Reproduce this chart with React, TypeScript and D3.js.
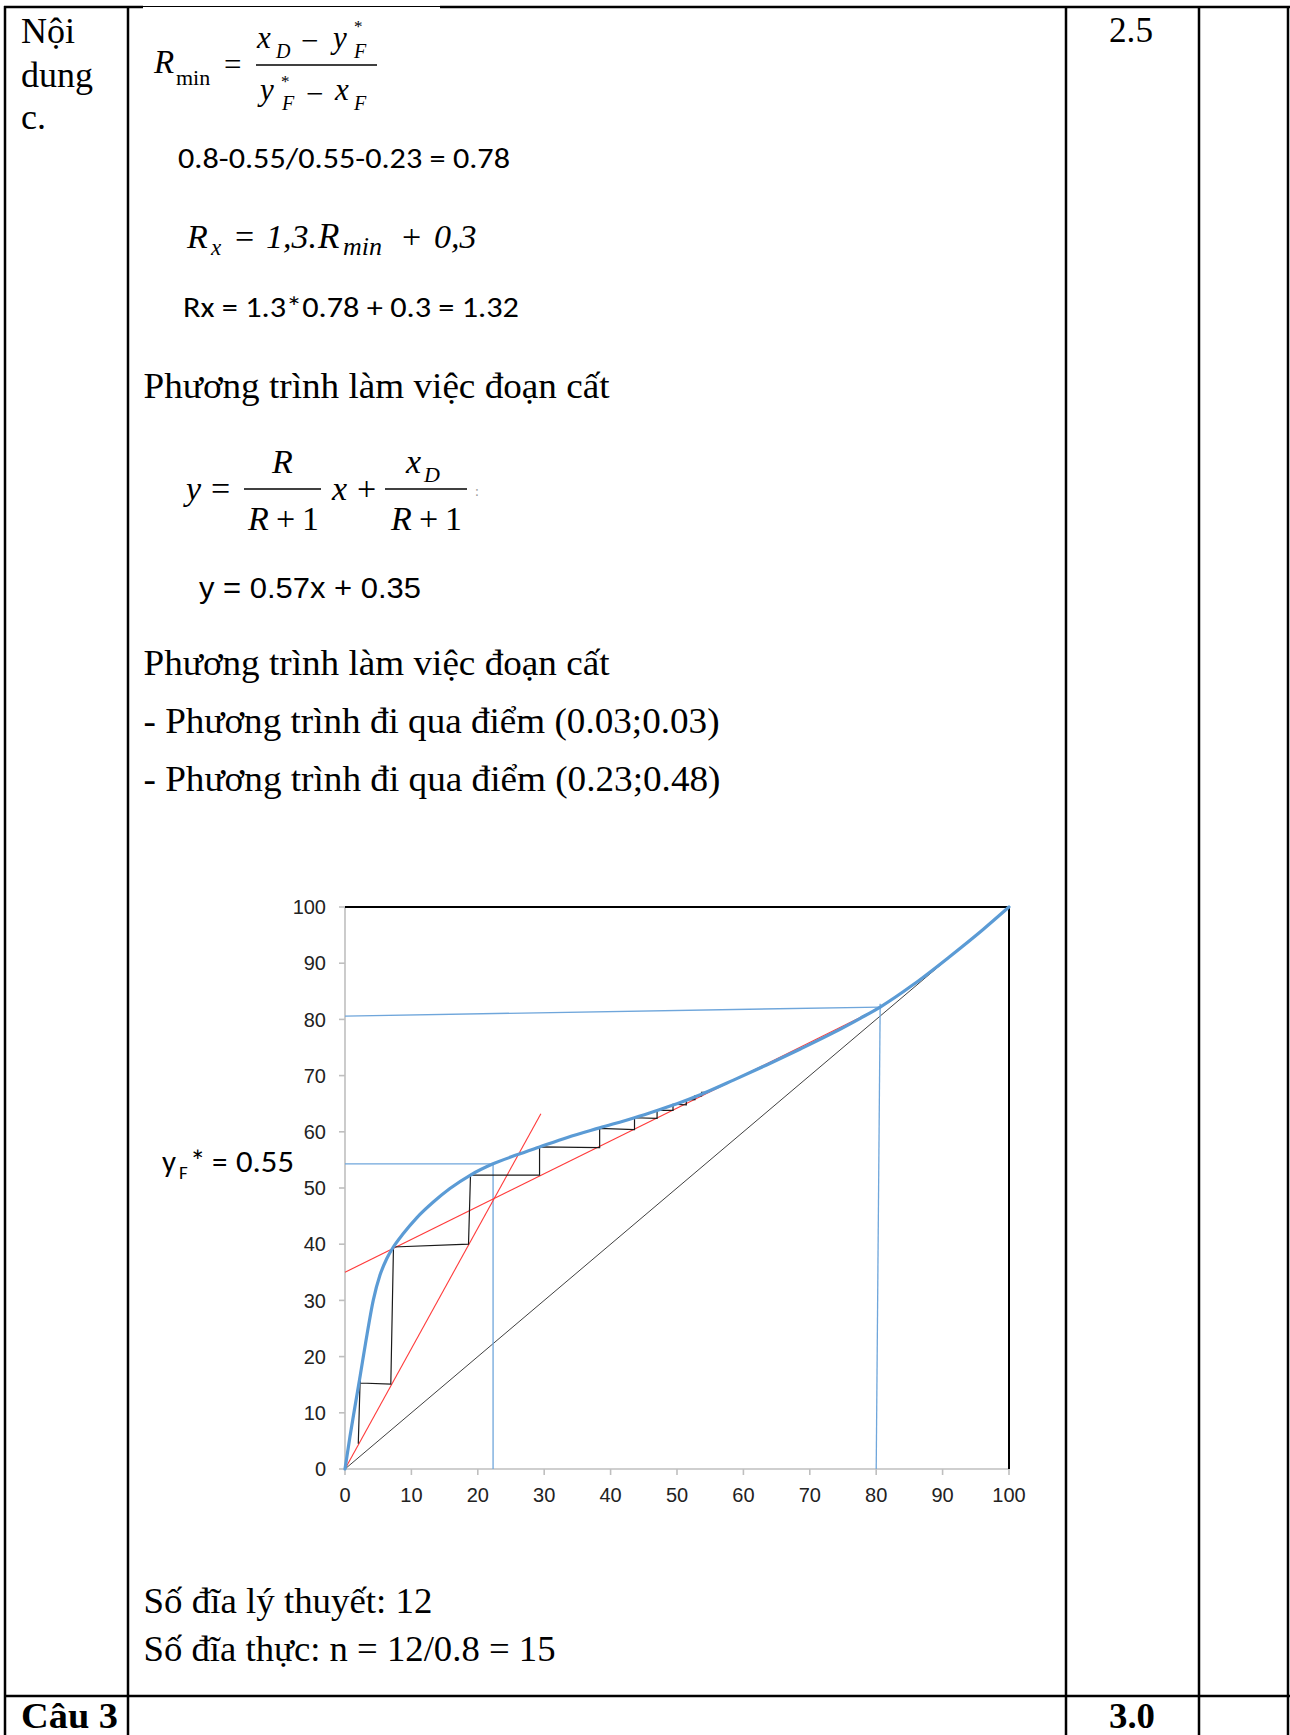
import React from "react";
import * as d3 from "d3";

// ---------- chart data (percent mole fraction) ----------
const eqX = [0, 0.75, 1.5, 2.3, 3.1, 4.27, 5.27, 6.28, 7.28, 8.78, 10.8, 13.3, 15.8, 18.9, 22.3, 25.9, 29.3, 33.5, 38.35, 43.6, 47, 50, 53.5, 58.5, 63.5, 68.5, 73.5, 77.6, 80.6, 85.6, 91.1, 96.1, 100];
const eqY = [0, 5.8, 11.1, 16.7, 22.4, 30.1, 34.5, 37.4, 39.5, 41.9, 44.7, 47.5, 49.9, 52.3, 54.3, 55.9, 57.3, 59.0, 60.7, 62.5, 63.8, 65.0, 66.6, 69.2, 71.9, 74.7, 77.6, 80.2, 82.2, 86.2, 91.2, 96.0, 100];

const diagonal: [number, number][] = [[0, 0], [100, 100]];
const frameTop: [number, number][] = [[0, 100], [100, 100]];
const frameRight: [number, number][] = [[100, 0], [100, 100]];
const rectifyingLine: [number, number][] = [[0, 35], [80.6, 82.1]];
const strippingLine: [number, number][] = [[0, 0], [29.5, 63.2]];
const feedHorizontal: [number, number][] = [[0, 54.3], [22.3, 54.3]];
const feedVertical: [number, number][] = [[22.3, 0], [22.3, 54.3]];
const topHorizontal: [number, number][] = [[0, 80.6], [80.6, 82.2]];
const topVertical: [number, number][] = [[80.0, 0], [80.6, 82.8]];
const steps: [number, number][] = [
  [2.0, 4.5], [2.3, 16.7], [2.3, 15.3], [6.9, 15.1], [7.3, 39.5], [18.6, 40.0],
  [18.9, 52.3], [29.3, 52.3], [29.3, 57.3], [38.35, 57.2], [38.35, 60.6], [43.6, 60.4],
  [43.6, 62.5], [47.0, 62.4], [47.0, 63.8], [49.4, 63.8], [49.4, 64.9], [51.4, 64.8],
  [51.4, 65.7], [52.7, 65.7], [52.7, 66.4], [53.7, 66.4], [53.7, 67.0], [54.4, 67.0],
];
const xTicks = [0, 10, 20, 30, 40, 50, 60, 70, 80, 90, 100];
const yTicks = [0, 10, 20, 30, 40, 50, 60, 70, 80, 90, 100];

const SERIF = "'Liberation Serif', 'Times New Roman', serif";
const SANS = "'Liberation Sans', Arial, sans-serif";
const CAL = "Carlito, Lato, 'Open Sans', sans-serif";

export default function App() {
  const x = d3.scaleLinear().domain([0, 100]).range([345, 1009]);
  const y = d3.scaleLinear().domain([0, 100]).range([1469, 907]);
  const line = d3.line<[number, number]>().x((d) => x(d[0])).y((d) => y(d[1]));
  const eqPts: [number, number][] = eqX.map((v, i) => [v, eqY[i]]);
  const curve = d3
    .line<[number, number]>()
    .x((d) => x(d[0]))
    .y((d) => y(d[1]))
    .curve(d3.curveMonotoneX);

  const it = { fontFamily: SERIF, fontStyle: "italic" as const };
  const rm = { fontFamily: SERIF };

  return (
    <svg
      width={1290}
      height={1735}
      viewBox="0 0 1290 1735"
      style={{ position: "absolute", left: 0, top: 0, background: "#fff" }}
    >
      <rect x={0} y={0} width={1290} height={1735} fill="#fff" />
      {/* ---------- table lines ---------- */}
      <g stroke="#000" fill="none">
        <line x1={5} y1={6} x2={5} y2={1735} strokeWidth={2.5} />
        <line x1={128} y1={6} x2={128} y2={1735} strokeWidth={2.5} />
        <line x1={1066} y1={6} x2={1066} y2={1735} strokeWidth={2.5} />
        <line x1={1199} y1={6} x2={1199} y2={1735} strokeWidth={2.5} />
        <line x1={1288} y1={6} x2={1288} y2={1735} strokeWidth={2.5} />
        <line x1={4} y1={7} x2={143} y2={7} strokeWidth={2.5} />
        <line x1={143} y1={6.5} x2={440} y2={6.5} strokeWidth={1} />
        <line x1={440} y1={7} x2={1290} y2={7} strokeWidth={2.5} />
        <line x1={4} y1={1696} x2={1290} y2={1696} strokeWidth={2.5} />
      </g>

      {/* ---------- left column ---------- */}
      <g fontSize={36} fill="#000" style={rm}>
        <text x={21} y={43}>Nội</text>
        <text x={21} y={87}>dung</text>
        <text x={21} y={129}>c.</text>
        <text x={1109} y={42} textLength={44} lengthAdjust="spacingAndGlyphs">2.5</text>
        <text x={21} y={1728} fontWeight="bold" textLength={97} lengthAdjust="spacingAndGlyphs">Câu 3</text>
        <text x={1109} y={1728} fontWeight="bold" textLength={46} lengthAdjust="spacingAndGlyphs">3.0</text>
      </g>

      {/* ---------- Rmin formula ---------- */}
      <g fill="#000">
        <text x={154} y={73} fontSize={33} style={it}>R</text>
        <text x={176} y={85} fontSize={22} style={rm}>min</text>
        <text x={224} y={75} fontSize={31} style={rm}>=</text>
        <line x1={256} y1={65} x2={377} y2={65} stroke="#000" strokeWidth={1.4} />
        <text x={257} y={48} fontSize={31} style={it}>x</text>
        <text x={276} y={58} fontSize={20} style={it}>D</text>
        <text x={301} y={51} fontSize={31} style={rm}>−</text>
        <text x={333} y={48} fontSize={31} style={it}>y</text>
        <text x={354} y={32} fontSize={17} style={rm}>*</text>
        <text x={354} y={58} fontSize={20} style={it}>F</text>
        <text x={260} y={100} fontSize={31} style={it}>y</text>
        <text x={281} y={87} fontSize={17} style={rm}>*</text>
        <text x={282} y={110} fontSize={20} style={it}>F</text>
        <text x={306} y={104} fontSize={31} style={rm}>−</text>
        <text x={335} y={100} fontSize={31} style={it}>x</text>
        <text x={354} y={110} fontSize={20} style={it}>F</text>
      </g>
      <text x={178} y={168} fontSize={29} fontFamily={CAL} textLength={332} lengthAdjust="spacingAndGlyphs">0.8-0.55/0.55-0.23 = 0.78</text>

      {/* ---------- Rx formula ---------- */}
      <g fill="#000">
        <text x={187} y={248} fontSize={34} style={it}>R</text>
        <text x={211} y={255} fontSize={23} style={it}>x</text>
        <text x={235} y={248} fontSize={34} style={rm}>=</text>
        <text x={266} y={248} fontSize={34} style={it}>1,3.</text>
        <text x={318} y={248} fontSize={35} style={it}>R</text>
        <text x={343} y={255} fontSize={26} style={it}>min</text>
        <text x={402} y={248} fontSize={34} style={rm}>+</text>
        <text x={434} y={248} fontSize={34} style={it}>0,3</text>
      </g>
      <text x={183} y={317} fontSize={29} fontFamily={CAL} textLength={336} lengthAdjust="spacingAndGlyphs">Rx = 1.3*0.78 + 0.3 = 1.32</text>

      {/* ---------- body text ---------- */}
      <g fontSize={36} fill="#000" style={rm}>
        <text x={143.5} y={398} textLength={466} lengthAdjust="spacingAndGlyphs">Phương trình làm việc đoạn cất</text>
        <text x={143.5} y={675} textLength={466} lengthAdjust="spacingAndGlyphs">Phương trình làm việc đoạn cất</text>
        <text x={143.5} y={733} textLength={576} lengthAdjust="spacingAndGlyphs">- Phương trình đi qua điểm (0.03;0.03)</text>
        <text x={143.5} y={791} textLength={577} lengthAdjust="spacingAndGlyphs">- Phương trình đi qua điểm (0.23;0.48)</text>
        <text x={143.5} y={1613} textLength={289} lengthAdjust="spacingAndGlyphs">Số đĩa lý thuyết: 12</text>
        <text x={143.5} y={1661} textLength={412} lengthAdjust="spacingAndGlyphs">Số đĩa thực: n = 12/0.8 = 15</text>
      </g>

      {/* ---------- operating line formula ---------- */}
      <g fill="#000">
        <text x={186} y={500} fontSize={34} style={it}>y</text>
        <text x={211} y={500} fontSize={34} style={rm}>=</text>
        <line x1={244} y1={489} x2={321} y2={489} stroke="#000" strokeWidth={1.6} />
        <text x={272} y={473} fontSize={34} style={it}>R</text>
        <text x={248} y={530} fontSize={34} style={it}>R</text>
        <text x={276} y={530} fontSize={34} style={rm}>+</text>
        <text x={302} y={530} fontSize={34} style={rm}>1</text>
        <text x={332} y={500} fontSize={34} style={it}>x</text>
        <text x={357} y={500} fontSize={34} style={rm}>+</text>
        <line x1={385} y1={489} x2={467} y2={489} stroke="#000" strokeWidth={1.6} />
        <text x={406} y={473} fontSize={34} style={it}>x</text>
        <text x={424} y={482} fontSize={22} style={it}>D</text>
        <text x={391} y={530} fontSize={34} style={it}>R</text>
        <text x={419} y={530} fontSize={34} style={rm}>+</text>
        <text x={445} y={530} fontSize={34} style={rm}>1</text>
        <text x={475} y={496} fontSize={14} fill="#999" style={rm}>:</text>
      </g>
      <text x={199} y={598} fontSize={29} fontFamily={SANS} textLength={222} lengthAdjust="spacingAndGlyphs">y = 0.57x + 0.35</text>

      {/* ---------- chart ---------- */}
      <g>
        {/* axes */}
        <line x1={x(0)} y1={y(0)} x2={x(0)} y2={y(100)} stroke="#bfbfbf" strokeWidth={1.6} />
        <line x1={x(0)} y1={y(0)} x2={x(100)} y2={y(0)} stroke="#bfbfbf" strokeWidth={1.6} />
        {yTicks.map((t) => (
          <g key={"y" + t}>
            <line x1={x(0) - 6} x2={x(0)} y1={y(t)} y2={y(t)} stroke="#bfbfbf" strokeWidth={1.6} />
            <text x={326} y={y(t)} dy="0.36em" textAnchor="end" fontSize={20} fontFamily={SANS} fill="#222">{t}</text>
          </g>
        ))}
        {xTicks.map((t) => (
          <g key={"x" + t}>
            <line x1={x(t)} x2={x(t)} y1={y(0)} y2={y(0) + 6} stroke="#bfbfbf" strokeWidth={1.6} />
            <text x={x(t)} y={1502} textAnchor="middle" fontSize={20} fontFamily={SANS} fill="#222">{t}</text>
          </g>
        ))}
        {/* frame */}
        <path d={line(frameTop) || ""} stroke="#000" strokeWidth={2} fill="none" />
        <path d={line(frameRight) || ""} stroke="#000" strokeWidth={2} fill="none" />
        {/* diagonal */}
        <path d={line(diagonal) || ""} stroke="#404040" strokeWidth={1} fill="none" />
        {/* guide lines */}
        {[feedHorizontal, feedVertical, topHorizontal, topVertical].map((seg, i) => (
          <path key={"g" + i} d={line(seg) || ""} stroke="#6fa6db" strokeWidth={1.3} fill="none" />
        ))}
        {/* operating lines */}
        <path d={line(rectifyingLine) || ""} stroke="#ff3b3b" strokeWidth={1.1} fill="none" />
        <path d={line(strippingLine) || ""} stroke="#ff3b3b" strokeWidth={1.1} fill="none" />
        {/* steps */}
        <path d={line(steps) || ""} stroke="#1a1a1a" strokeWidth={1.2} fill="none" strokeLinejoin="miter" />
        {/* equilibrium curve */}
        <path d={curve(eqPts) || ""} stroke="#5b9bd5" strokeWidth={3.2} fill="none" strokeLinecap="round" />
      </g>

      {/* yF* label */}
      <g fill="#000" fontFamily={CAL}>
        <text x={162} y={1172} fontSize={31}>y</text>
        <text x={179} y={1179} fontSize={19}>F</text>
        <text x={190} y={1172} fontSize={31}>*</text>
        <text x={212} y={1172} fontSize={31}>=</text>
        <text x={236} y={1172} fontSize={31} textLength={58} lengthAdjust="spacingAndGlyphs">0.55</text>
      </g>
    </svg>
  );
}
